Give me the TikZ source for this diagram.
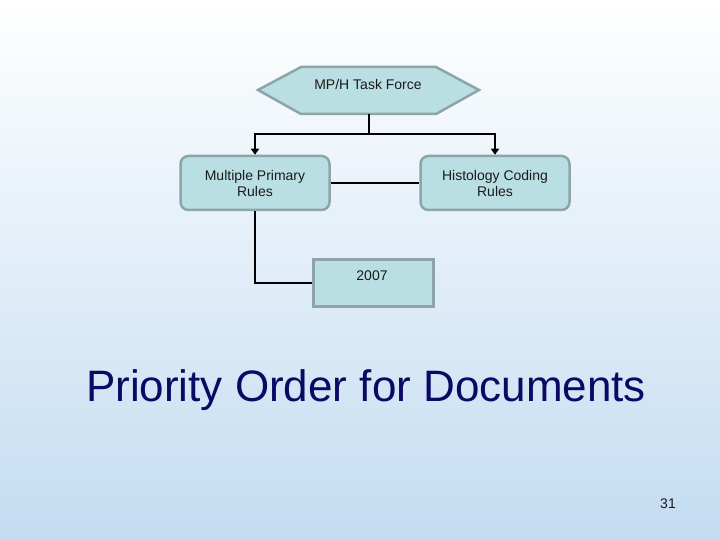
\documentclass[tikz,border=0pt]{standalone}
\usepackage{fontspec}
\setmainfont{Liberation Sans}
\usetikzlibrary{arrows.meta}
\definecolor{boxfill}{HTML}{BADFE2}
\definecolor{boxline}{HTML}{8DA5A8}
\definecolor{bgtop}{HTML}{FFFFFF}
\definecolor{bgbot}{HTML}{C3DCF1}
\definecolor{titlecol}{HTML}{0A0A64}
\definecolor{txtcol}{HTML}{1A1A1A}
\tikzset{
  lbl/.style={font=\fontsize{14}{16}\selectfont, text=txtcol},
  shapebox/.style={fill=boxfill, draw=boxline, line width=2.5pt},
  roundbox/.style={shapebox, lbl, rounded corners=8pt, minimum width=149pt, minimum height=54pt, align=center, inner sep=0pt},
  squarebox/.style={shapebox, minimum width=120pt, minimum height=47pt, inner sep=0pt},
  conn/.style={draw=black, line width=2pt},
  arr/.style={conn, -{Triangle[width=8pt,length=6pt]}},
}
\begin{document}
\begin{tikzpicture}[x=1pt,y=-1pt]
\shade[top color=bgtop, bottom color=bgbot] (0,0) rectangle (720,540);
\useasboundingbox (0,0) rectangle (720,540);
% hexagon
\draw[shapebox] (258,90) -- (301,67) -- (436,67) -- (479,90) -- (436,114) -- (301,114) -- cycle;
\node[lbl] (hex) at (368,84) {MP/H Task Force};
\coordinate (hexb) at (369,114);
\coordinate (split) at (369,134);
\node[roundbox] (mpr) at (255,183) {Multiple Primary\\Rules};
\node[roundbox] (hcr) at (495,183) {Histology Coding\\Rules};
\node[squarebox, anchor=north west] (y07) at (312,258) {};
\node[lbl] (y07t) at (372,276) {2007};
\draw[conn] (hexb) -- (split);
\draw[arr] (split) -| (mpr.north);
\draw[arr] (split) -| (hcr.north);
\draw[conn] (mpr.east) -- (hcr.west);
\draw[conn] (mpr.south) |- (y07.west);
\node[font=\fontsize{44}{50}\selectfont, text=titlecol] (title) at (366,390) {Priority Order for Documents};
\node[lbl] (pg) at (668,504) {31};
\end{tikzpicture}
\end{document}
